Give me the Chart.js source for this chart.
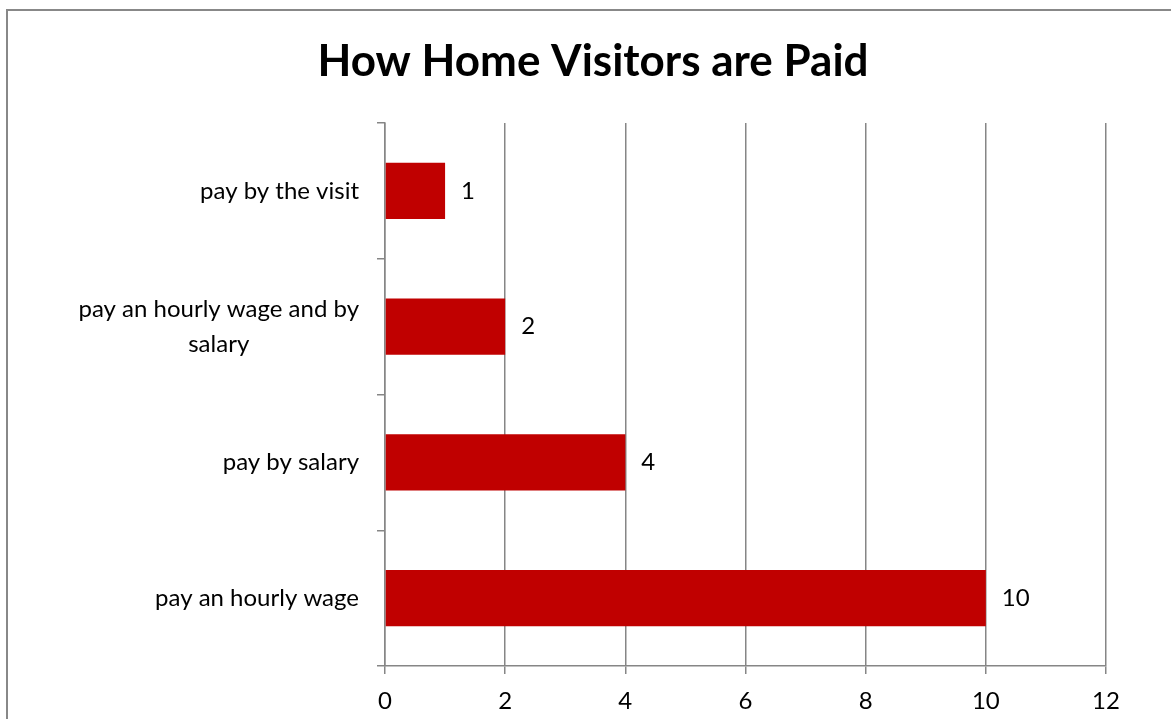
<!DOCTYPE html>
<html><head><meta charset="utf-8">
<script src="https://cdn.jsdelivr.net/npm/chart.js@4.4.1/dist/chart.umd.min.js"></script>
<style>html,body{margin:0;padding:0;background:#fff;overflow:hidden}#wrap{position:absolute;left:0;top:0;width:1171px;height:719px}</style>
</head><body><div id="wrap"><canvas id="c" width="1171" height="719"></canvas></div>
<script>
const chartTitle = 'How Home Visitors are Paid';
const categories = [['pay by the visit'], ['pay an hourly wage and by', 'salary'], ['pay by salary'], ['pay an hourly wage']];
const values = [1, 2, 4, 10];
const xTicks = [0, 2, 4, 6, 8, 10, 12];

const FONT = 'Lato, "Liberation Sans", sans-serif';
const GRID = '#868686';

const framePlugin = {
  id: 'frame',
  beforeDraw(chart) {
    const ctx = chart.ctx;
    ctx.save();
    ctx.fillStyle = '#fff';
    ctx.fillRect(0, 0, chart.width, chart.height);
    ctx.strokeStyle = '#888';
    ctx.lineWidth = 2;
    ctx.beginPath();
    ctx.moveTo(7, 730); ctx.lineTo(7, 10); ctx.lineTo(1180, 10);
    ctx.stroke();
    ctx.fillStyle = '#000';
    ctx.font = 'bold 44px ' + FONT;
    ctx.textAlign = 'center';
    ctx.textBaseline = 'middle';
    ctx.fillText(chartTitle, 593, 62);
    ctx.restore();
  },
  afterDraw(chart) {
    const ctx = chart.ctx;
    const ys = chart.scales.y;
    ctx.save();
    ctx.fillStyle = '#000';
    ctx.font = '24px ' + FONT;
    ctx.textBaseline = 'middle';
    categories.forEach((lines, i) => {
      const yc = ys.getPixelForTick(i);
      const widths = lines.map(l => ctx.measureText(l).width);
      const maxW = Math.max(...widths);
      const right = chart.chartArea.left - 26;
      const cx = right - maxW / 2;
      const lh = 35;
      const y0 = yc - (lines.length - 1) * lh / 2;
      ctx.textAlign = 'center';
      lines.forEach((l, k) => ctx.fillText(l, cx, y0 + k * lh));
    });
    const meta = chart.getDatasetMeta(0);
    ctx.textAlign = 'left';
    meta.data.forEach((bar, i) => {
      ctx.fillText(String(values[i]), bar.x + 16, bar.y);
    });
    ctx.restore();
  }
};

new Chart(document.getElementById('c'), {
  type: 'bar',
  data: {
    labels: categories,
    datasets: [{ data: values, backgroundColor: '#C00000', borderWidth: 0, categoryPercentage: 1, barPercentage: 0.415 }]
  },
  options: {
    indexAxis: 'y',
    responsive: false,
    animation: false,
    devicePixelRatio: 1,
    layout: { padding: { left: 0, right: 65, top: 123, bottom: 0 } },
    plugins: { legend: { display: false }, title: { display: false }, tooltip: { enabled: false } },
    scales: {
      x: {
        min: 0, max: 12,
        afterBuildTicks(s) { s.ticks = xTicks.map(v => ({ value: v })); },
        afterFit(s) { s.height = 53; },
        grid: { color: GRID, lineWidth: 1.5, tickLength: 8, drawTicks: true },
        border: { color: GRID, width: 1.5 },
        ticks: { color: '#000', font: { family: FONT, size: 24 }, padding: 13, maxRotation: 0 }
      },
      y: {
        afterFit(s) { s.width = 385; },
        grid: { offset: true, drawOnChartArea: false, color: GRID, lineWidth: 1.5, tickLength: 8 },
        border: { color: GRID, width: 1.5 },
        ticks: { display: false }
      }
    }
  },
  plugins: [framePlugin]
});
</script></body></html>
